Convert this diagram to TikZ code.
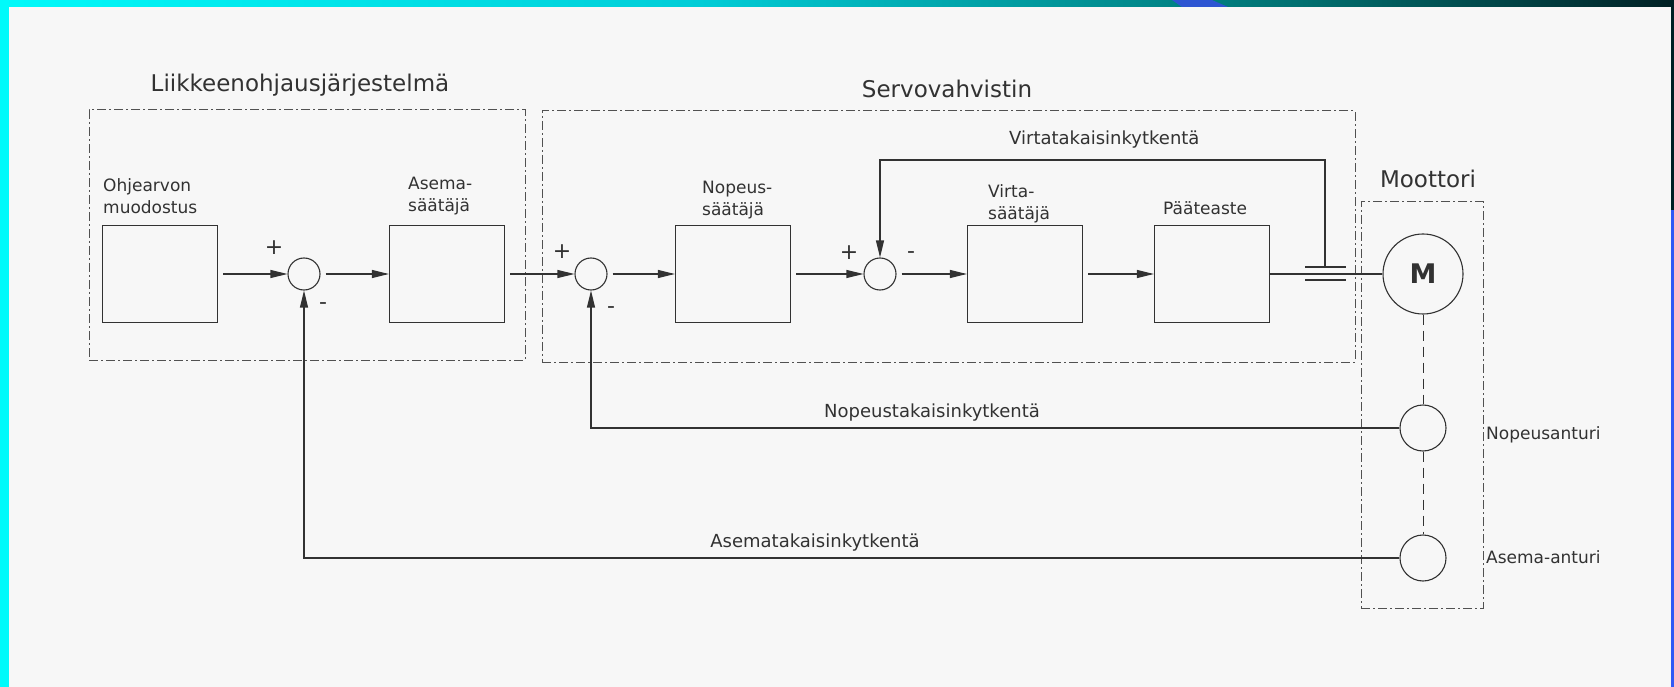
\documentclass[tikz,border=0pt]{standalone}
\usepackage{fontspec}
\setmainfont{DejaVu Sans}
\usepackage{tikz}
\usetikzlibrary{arrows.meta,positioning,calc}
\definecolor{paper}{RGB}{247,247,247}
\definecolor{ink}{RGB}{50,50,50}
\definecolor{rimcyan}{RGB}{0,250,250}
\definecolor{rimmid}{RGB}{0,205,215}
\definecolor{rimteal}{RGB}{0,112,112}
\definecolor{rimdark}{RGB}{0,32,36}
\definecolor{rimblue}{RGB}{50,90,245}
\definecolor{rimblob}{RGB}{45,85,210}

\begin{document}
\begin{tikzpicture}[x=1pt, y=-1pt,
  blk/.style={rectangle, draw=ink, line width=1.2pt, minimum width=115pt,
    minimum height=97pt, inner sep=0pt},
  sm/.style={circle, draw=ink, line width=1.1pt, minimum size=32pt, inner sep=0pt},
  snsr/.style={circle, draw=ink, line width=1.1pt, minimum size=46pt, inner sep=0pt},
  grp/.style={rectangle, draw=ink!85, line width=1pt,
    dash pattern=on 9pt off 3pt on 2pt off 3pt, inner sep=0pt},
  tr/.style={-{Triangle[length=17pt,width=8pt]}, ink, line width=1.2pt},
  ln/.style={ink, line width=1.2pt},
  mech/.style={ink, line width=1pt, dash pattern=on 10pt off 6pt},
  lbl/.style={anchor=north west, align=left, inner sep=0pt, text=ink,
    font=\fontsize{17}{22}\selectfont},
  ttl/.style={anchor=base, inner sep=0pt, text=ink, font=\fontsize{23}{26}\selectfont},
  fbl/.style={anchor=base, inner sep=0pt, text=ink, font=\fontsize{18}{20}\selectfont},
  sgn/.style={inner sep=0pt, text=ink, font=\fontsize{22}{22}\selectfont}
]
  \useasboundingbox (0,0) rectangle (1674,687);

  % paper and frame
  \fill[paper] (0,0) rectangle (1674,687);
  \shade[left color=rimcyan, right color=rimmid] (0,0) rectangle (700,7);
  \shade[left color=rimmid, right color=rimteal] (700,0) rectangle (1300,7);
  \shade[left color=rimteal, right color=rimdark] (1300,0) rectangle (1674,7);
  \fill[rimblob] (1172,0) -- (1212,0) -- (1228,7) -- (1182,7) -- cycle;
  \fill[rimcyan] (0,0) rectangle (9,687);
  \fill[rimdark] (1671,0) rectangle (1674,210);
  \fill[rimblue] (1671,210) rectangle (1674,687);

  % groups
  \node[grp, minimum width=436pt, minimum height=250pt] (liike) at (307,235) {};
  \node[grp, minimum width=813pt, minimum height=251pt] (servo) at (948.5,236.5) {};
  \node[grp, minimum width=122pt, minimum height=406pt] (moot) at (1422,405) {};
  \node[ttl] (tliike) at (300,92)  {Liikkeenohjausjärjestelmä};
  \node[ttl] (tservo) at (947,98)  {Servovahvistin};
  \node[ttl] (tmoot)  at (1428,188) {Moottori};

  % blocks
  \node[blk] (ohj)   at (160,274)  {};
  \node[blk] (asema) at (447,274)  {};
  \node[blk] (nop)   at (733,274)  {};
  \node[blk] (virta) at (1025,274) {};
  \node[blk] (paate) at (1212,274) {};
  \node[lbl] (lohj)   at (103,178) {Ohjearvon\\muodostus};
  \node[lbl] (lasema) at (408,177) {Asema-\\säätäjä};
  \node[lbl] (lnop)   at (702,181) {Nopeus-\\säätäjä};
  \node[lbl] (lvirta) at (988,184) {Virta-\\säätäjä};
  \node[lbl, anchor=base west] (lpaate) at (1163,215) {Pääteaste};

  % summing points, motor and sensors
  \node[sm] (sum1) at (304,274) {};
  \node[sm] (sum2) at (591,274) {};
  \node[sm] (sum3) at (880,274) {};
  \node[circle, draw=ink, line width=1.1pt, minimum size=80pt, inner sep=0pt, text=ink,
    font=\bfseries\fontsize{27}{30}\selectfont] (mot) at (1423,274) {M};
  \node[snsr] (nsens) at (1423,428) {};
  \node[snsr] (asens) at (1423,558) {};
  \node[lbl, anchor=base west] (lnsens) at (1486,439) {Nopeusanturi};
  \node[lbl, anchor=base west] (lasens) at (1486,563) {Asema-anturi};

  \node[sgn] (p1) at (274,248) {+};
  \node[sgn] (p2) at (562,252) {+};
  \node[sgn] (p3) at (849,253) {+};
  \node[sgn] (m1) at (323,306) {-};
  \node[sgn] (m2) at (611,310) {-};
  \node[sgn] (m3) at (911,255) {-};

  % forward path
  \draw[tr, shorten <=5pt] (ohj)   -- (sum1);
  \draw[tr, shorten <=5pt] (sum1)  -- (asema);
  \draw[tr, shorten <=5pt] (asema) -- (sum2);
  \draw[tr, shorten <=5pt] (sum2)  -- (nop);
  \draw[tr, shorten <=5pt] (nop)   -- (sum3);
  \draw[tr, shorten <=5pt] (sum3)  -- (virta);
  \draw[tr, shorten <=5pt] (virta) -- (paate);
  \draw[ln] (paate) -- (mot);

  % current feedback
  \coordinate (itap) at (1325,267);
  \coordinate (vtop) at (1325,160);
  \draw[ln] (1305,267) -- (1346,267);
  \draw[ln] (1305,280) -- (1346,280);
  \draw[tr] (itap) -- (vtop) -| (sum3);
  \node[fbl, anchor=base west] (lvk) at (1009,145) {Virtatakaisinkytkentä};

  % speed and position feedback
  \draw[tr] (nsens) -| (sum2);
  \draw[tr] (asens) -| (sum1);
  \node[fbl] (lnk) at (932,417) {Nopeustakaisinkytkentä};
  \node[fbl] (lak) at (815,547) {Asematakaisinkytkentä};

  % shaft
  \draw[mech] (mot) -- (nsens);
  \draw[mech] (nsens) -- (asens);
\end{tikzpicture}
\end{document}
